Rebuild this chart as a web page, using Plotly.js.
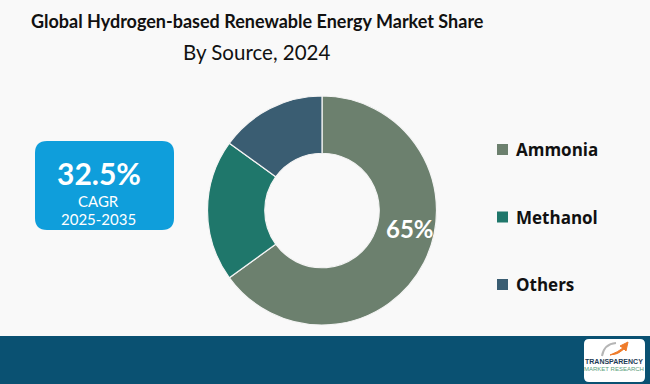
<!DOCTYPE html>
<html>
<head>
<meta charset="utf-8">
<script src="https://cdn.plot.ly/plotly-3.0.1.min.js"></script>
<style>
  html, body { margin: 0; padding: 0; background: #f9f9f9; }
  #chart { width: 650px; height: 384px; }
</style>
</head>
<body>
<div id="chart"></div>
<script>
// ---- data ----
const categories = ["Ammonia", "Methanol", "Others"];
const shares = [65, 20, 15];
const sliceColors = ["#6c806e", "#1f776b", "#3a5d72"];
const titleText = "Global Hydrogen-based Renewable Energy Market Share";
const subtitleText = "By Source, 2024";
const cagrValue = "32.5%";
const cagrLabel = "CAGR";
const cagrPeriod = "2025-2035";

// ---- helpers (pixel -> paper) ----
const W = 650, H = 384;
const px = x => x / W;
const py = y => 1 - y / H;

const trace = {
  type: "pie",
  labels: categories,
  values: shares,
  hole: 0.5,
  sort: false,
  direction: "clockwise",
  rotation: 0,
  marker: { colors: sliceColors, line: { color: "#f4f4f4", width: 1.2 } },
  textinfo: "none",
  hoverinfo: "label+percent",
  showlegend: false,
  domain: { x: [px(207.5), px(436.5)], y: [py(325.5), py(95.5)] }
};

const annotations = [
  { text: "<b>" + titleText + "</b>", x: px(257), y: py(21), xref: "paper", yref: "paper",
    showarrow: false, xanchor: "center", yanchor: "middle",
    font: { family: "Lato, sans-serif", size: 18, color: "#111" } },
  { text: subtitleText, x: px(256.5), y: py(52), xref: "paper", yref: "paper",
    showarrow: false, xanchor: "center", yanchor: "middle",
    font: { family: "Lato, sans-serif", size: 20.5, color: "#111" } },
  { text: "<b>" + cagrValue + "</b>", x: px(98.5), y: py(173), xref: "paper", yref: "paper",
    showarrow: false, xanchor: "center", yanchor: "middle",
    font: { family: "Lato, sans-serif", size: 30, color: "#ffffff" } },
  { text: cagrLabel, x: px(98.5), y: py(201), xref: "paper", yref: "paper",
    showarrow: false, xanchor: "center", yanchor: "middle",
    font: { family: "Lato, sans-serif", size: 15, color: "#ffffff" } },
  { text: cagrPeriod, x: px(98.5), y: py(219), xref: "paper", yref: "paper",
    showarrow: false, xanchor: "center", yanchor: "middle",
    font: { family: "Lato, sans-serif", size: 15, color: "#ffffff" } },
  { text: "<b>" + shares[0] + "%</b>", x: px(410.5), y: py(228), xref: "paper", yref: "paper",
    showarrow: false, xanchor: "center", yanchor: "middle",
    font: { family: "Lato, sans-serif", size: 24, color: "#ffffff" } },
  // logo text
  { text: "<b>TRANSPARENCY</b>", x: px(614), y: py(361), xref: "paper", yref: "paper",
    showarrow: false, xanchor: "center", yanchor: "middle",
    font: { family: "Liberation Sans, sans-serif", size: 7, color: "#1d3b55" } },
  { text: "MARKET RESEARCH", x: px(614), y: py(369), xref: "paper", yref: "paper",
    showarrow: false, xanchor: "center", yanchor: "middle",
    font: { family: "Liberation Sans, sans-serif", size: 6, color: "#5a9e7a" } }
];

const shapes = [
  // bottom band
  { type: "rect", xref: "paper", yref: "paper", x0: 0, x1: 1, y0: 0, y1: py(336),
    fillcolor: "#0a5172", line: { width: 0 }, layer: "below" },
  // CAGR rounded box
  { type: "path", xref: "paper", yref: "paper", layer: "below",
    path: roundRect(35, 141, 174, 230, 12), fillcolor: "#0f9edb", line: { width: 0 } },
  // logo box
  { type: "path", xref: "paper", yref: "paper", layer: "above",
    path: roundRect(584, 339, 645, 382, 5), fillcolor: "#ffffff", line: { width: 0 } },
  // logo swoosh (decor)
  { type: "path", xref: "paper", yref: "paper", layer: "above",
    path: "M " + px(602) + " " + py(356) + " Q " + px(604) + " " + py(344) + " " + px(616) + " " + py(343),
    line: { color: "#b5b5b5", width: 2 } },
  // logo arrow (decor)
  { type: "path", xref: "paper", yref: "paper", layer: "above",
    path: "M " + px(610) + " " + py(355) + " Q " + px(618) + " " + py(352) + " " + px(623) + " " + py(348) +
          " L " + px(620) + " " + py(346) + " L " + px(628) + " " + py(342) + " L " + px(626) + " " + py(351) +
          " L " + px(624) + " " + py(349) + " Q " + px(618) + " " + py(355) + " " + px(610) + " " + py(355) + " Z",
    fillcolor: "#ef7b2a", line: { color: "#ef7b2a", width: 1 } }
];

// legend markers + labels built from the arrays
const legendY = [149.5, 217, 284.5];
categories.forEach((c, i) => {
  shapes.push({ type: "rect", xref: "paper", yref: "paper",
    x0: px(497), x1: px(508), y0: py(legendY[i] + 5.5), y1: py(legendY[i] - 5.5),
    fillcolor: sliceColors[i], line: { width: 0 } });
  annotations.push({ text: "<b>" + c + "</b>", x: px(514), y: py(legendY[i]), xref: "paper", yref: "paper",
    showarrow: false, xanchor: "left", yanchor: "middle",
    font: { family: "Open Sans, sans-serif", size: 17, color: "#111" } });
});

function roundRect(x0, y0, x1, y1, r) {
  const X = v => px(v), Y = v => py(v);
  return "M " + X(x0 + r) + " " + Y(y0) +
    " L " + X(x1 - r) + " " + Y(y0) +
    " Q " + X(x1) + " " + Y(y0) + " " + X(x1) + " " + Y(y0 + r) +
    " L " + X(x1) + " " + Y(y1 - r) +
    " Q " + X(x1) + " " + Y(y1) + " " + X(x1 - r) + " " + Y(y1) +
    " L " + X(x0 + r) + " " + Y(y1) +
    " Q " + X(x0) + " " + Y(y1) + " " + X(x0) + " " + Y(y1 - r) +
    " L " + X(x0) + " " + Y(y0 + r) +
    " Q " + X(x0) + " " + Y(y0) + " " + X(x0 + r) + " " + Y(y0) + " Z";
}

const layout = {
  width: W, height: H,
  margin: { l: 0, r: 0, t: 0, b: 0 },
  paper_bgcolor: "#f9f9f9",
  plot_bgcolor: "#f9f9f9",
  showlegend: false,
  annotations: annotations,
  shapes: shapes
};

Plotly.newPlot("chart", [trace], layout, { displayModeBar: false, staticPlot: true });
</script>
</body>
</html>
